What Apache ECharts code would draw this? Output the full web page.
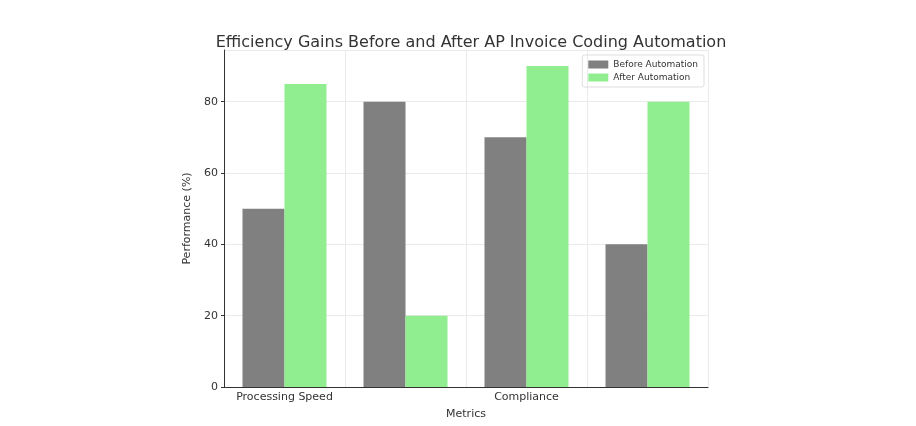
<!DOCTYPE html>
<html>
<head>
<meta charset="utf-8">
<script src="https://cdn.jsdelivr.net/npm/echarts@6/dist/echarts.min.js"></script>
<style>html,body{margin:0;background:#fff}#chart{width:916px;height:426px}</style>
</head>
<body>
<div id="chart"></div>
<script>
const categories = ['Processing Speed', 'Error Rate', 'Compliance', 'Scalability'];
const beforeValues = [50, 80, 70, 40];
const afterValues = [85, 20, 90, 80];

const chart = echarts.init(document.getElementById('chart'));
const txt = { color: '#333', fontFamily: 'DejaVu Sans' };

chart.setOption({
  animation: false,
  textStyle: { fontFamily: 'DejaVu Sans' },
  title: {
    text: 'Efficiency Gains Before and After AP Invoice Coding Automation',
    left: 466, top: 30, textAlign: 'center',
    textStyle: { ...txt, fontSize: 16, fontWeight: 'normal' }
  },
  legend: {
    right: 212, top: 55, orient: 'vertical', itemGap: 4,
    itemWidth: 20, itemHeight: 8,
    borderColor: '#ddd', borderWidth: 1, borderRadius: 2, padding: [5, 6],
    textStyle: { ...txt, fontSize: 9 },
    icon: 'rect'
  },
  grid: { left: 224, right: 208, top: 50, bottom: 39 },
  xAxis: {
    type: 'category', data: categories,
    name: 'Metrics', nameLocation: 'middle', nameGap: 22,
    nameTextStyle: { ...txt, fontSize: 11 },
    axisLine: { lineStyle: { color: '#333' } },
    axisTick: { alignWithLabel: true, length: 3, lineStyle: { color: '#333' } },
    axisLabel: { ...txt, fontSize: 11, margin: 5 },
    splitLine: { show: true, interval: 0, lineStyle: { color: '#eaeaea' } }
  },
  yAxis: {
    type: 'value', min: 0, max: 94.5, interval: 20,
    name: 'Performance (%)', nameLocation: 'middle', nameGap: 30,
    nameTextStyle: { ...txt, fontSize: 11 },
    axisLine: { show: true, lineStyle: { color: '#333' } },
    axisTick: { show: true, length: 3, lineStyle: { color: '#333' } },
    axisLabel: { ...txt, fontSize: 11, margin: 6, showMaxLabel: false },
    splitLine: { lineStyle: { color: '#eaeaea' } }
  },
  series: [
    { name: 'Before Automation', type: 'bar', data: beforeValues, barWidth: 42, barGap: '0%', itemStyle: { color: '#808080' } },
    { name: 'After Automation', type: 'bar', data: afterValues, barWidth: 42, itemStyle: { color: '#90ee90' } }
  ]
});
</script>
</body>
</html>
